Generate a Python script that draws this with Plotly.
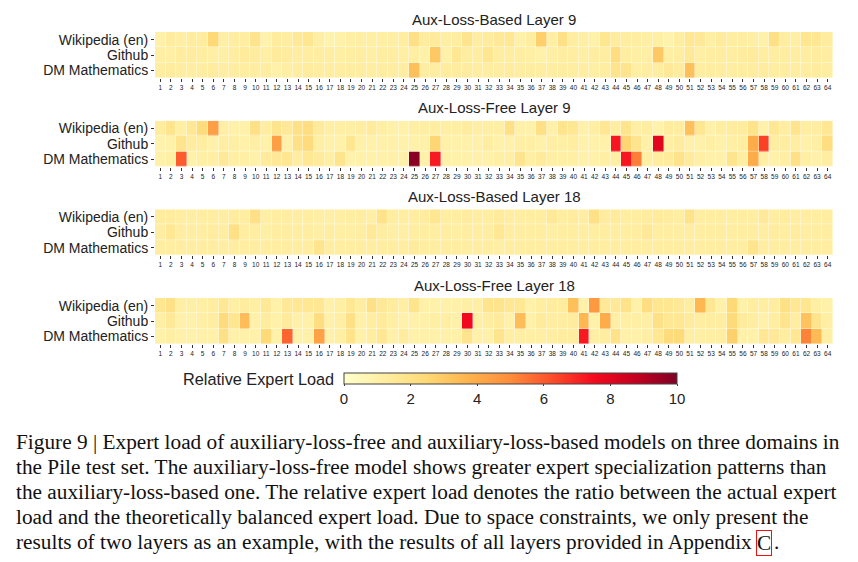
import plotly.graph_objects as go

W, H = 858, 562

experts = list(range(1, 65))
domains = ["Wikipedia (en)", "Github", "DM Mathematics"]
panel_titles = ["Aux-Loss-Based Layer 9", "Aux-Loss-Free Layer 9",
                "Aux-Loss-Based Layer 18", "Aux-Loss-Free Layer 18"]

# ---- Aux-Loss-Based Layer 9 ----
alb9_wiki = [1.0,1.3,1.1,1.3,1.3,2.5,1.1,1.2,1.2,1.8, 0.9,1.3,1.2,1.5,1.7,1.1,0.9,1.0,1.1,1.1,
             1.1,1.1,1.1,1.2,2.0,1.3,1.4,1.1,1.2,1.8, 1.2,1.3,
             1.5,1.6,1.0,1.2,2.8,1.1,2.0,1.2, 1.1,1.0,1.7,1.3,1.2,1.2,1.1,1.1,0.9,1.2,
             1.6,1.5,1.1,1.4,1.2,1.2,1.1,1.0,2.0,1.2, 1.1,1.7,1.6,1.3]
alb9_github = [1.1,1.1,1.3,1.3,1.2,1.1,1.1,1.2,1.4,1.3, 1.1,1.4,1.3,1.2,1.2,1.2,1.2,1.1,1.2,1.2,
               1.1,1.2,1.2,1.1,1.1,1.0,3.0,1.0,1.6,1.2, 1.2,1.7,
               1.2,1.2,1.2,1.1,1.0,1.1,1.2,1.2, 1.1,1.2,1.2,2.2,1.2,1.1,1.1,3.0,1.1,1.2,
               1.5,1.1,1.2,1.2,1.2,1.3,1.4,1.2,1.2,1.2, 1.2,1.2,1.3,1.2]
alb9_dm = [1.2,1.3,1.2,1.2,1.2,1.3,1.2,1.2,1.2,1.2, 1.2,1.0,1.1,1.2,1.3,1.2,1.2,1.2,1.2,1.2,
           1.2,1.2,1.2,1.2,3.3,1.2,1.2,1.3,1.3,1.3, 1.2,1.2,
           1.2,1.3,1.2,1.2,1.2,1.2,1.2,1.2, 1.2,1.1,1.2,1.8,1.8,1.1,1.2,1.2,1.5,1.3,
           3.3,1.2,1.2,1.2,1.2,1.2,1.3,1.3,1.2,1.2, 1.2,1.2,1.3,1.2]

# ---- Aux-Loss-Free Layer 9 ----
alf9_wiki = [1.3,1.8,1.1,1.6,2.3,4.4,1.1,1.0,1.0,2.0, 1.2,1.8,1.5,2.0,2.2,1.4,1.1,1.1,1.1,1.2,
             1.4,1.1,1.0,1.0,1.1,1.1,1.2,1.1,1.1,1.3, 1.1,1.1,
             1.1,2.0,1.0,1.0,2.0,1.0,1.8,1.6, 1.0,1.1,1.6,1.2,1.8,1.1,1.2,0.9,1.3,1.2,
             3.3,1.7,1.0,1.2,1.3,1.3,1.9,1.0,1.6,1.2, 1.8,1.2,1.2,1.6]
alf9_github = [0.9,1.0,1.8,1.3,1.2,1.0,1.2,1.1,1.0,1.1, 1.0,4.4,1.0,2.0,2.3,1.1,1.0,1.0,1.7,1.0,
               1.0,1.0,1.0,1.0,1.0,1.0,2.6,1.0,1.0,1.0, 1.0,1.2,
               1.0,1.0,1.1,1.1,1.0,1.1,1.1,1.2, 1.0,1.0,1.0,7.3,2.6,1.8,1.0,8.0,1.1,1.3,
               1.0,1.0,1.1,1.0,1.1,1.2,4.0,6.5,1.2,1.2, 1.2,1.0,1.1,2.2]
alf9_dm = [1.0,1.1,6.0,1.0,1.1,1.1,1.5,1.1,1.1,1.0, 1.4,1.5,1.7,1.2,1.6,1.4,1.1,1.8,0.9,1.0,
           1.0,1.0,1.0,1.0,9.8,1.0,7.2,1.0,1.0,1.0, 1.0,1.0,
           1.1,1.1,1.8,1.1,1.4,1.1,1.1,1.1, 1.0,1.0,1.1,1.1,7.3,5.3,1.1,1.3,1.4,1.9,
           1.4,1.1,1.0,1.0,1.8,1.2,4.0,1.1,1.0,1.1, 2.0,1.1,1.0,1.2]

# ---- Aux-Loss-Based Layer 18 ----
alb18_wiki = [1.3,1.3,1.2,1.2,1.2,1.2,1.2,1.3,1.2,2.0, 1.1,1.2,1.2,1.2,1.2,1.1,1.1,1.1,1.2,1.2,
              1.1,1.9,1.2,1.2,1.2,1.3,1.7,1.2,1.2,1.3, 1.2,1.2,
              1.4,1.2,1.2,1.2,1.2,1.5,1.2,1.3, 1.2,2.0,1.3,1.4,1.2,1.2,1.3,1.4,1.3,1.2,
              1.9,1.2,1.2,1.2,1.2,1.2,1.2,1.5,1.2,1.3, 1.2,1.2,1.2,1.2]
alb18_github = [1.2,1.6,1.2,1.2,1.2,1.3,1.2,2.0,1.2,1.2, 1.1,1.2,1.2,1.2,1.2,1.1,1.2,1.1,1.1,1.2,
                1.5,1.2,1.1,1.1,1.2,1.2,1.2,1.2,1.1,1.2, 1.2,1.2,
                1.6,1.2,1.2,1.2,1.2,1.1,1.2,1.2, 1.2,1.2,1.2,1.2,1.2,1.2,1.5,1.2,1.2,1.2,
                1.2,1.2,1.2,1.2,1.2,1.2,1.2,1.2,1.3,1.2, 1.3,1.2,1.2,1.2]
alb18_dm = [1.2,1.2,1.2,1.2,1.2,1.2,1.2,1.2,1.2,1.2, 1.2,1.2,1.2,1.2,1.2,1.8,1.2,1.2,1.2,1.2,
            1.2,1.2,1.2,1.2,1.35,1.2,1.2,1.2,1.2,1.2, 1.2,1.2,
            1.1,1.2,1.2,1.2,1.2,1.2,1.2,1.2, 1.2,1.2,1.2,1.2,1.2,1.2,1.2,1.2,1.2,1.2,
            1.2,1.2,1.2,1.2,1.2,1.2,1.8,1.2,1.2,1.2, 1.2,1.2,1.2,1.2]

# ---- Aux-Loss-Free Layer 18 ----
alf18_wiki = [1.7,2.0,1.1,1.1,1.1,1.2,1.6,1.1,1.3,1.1, 1.5,1.0,1.5,1.6,1.6,1.6,1.0,1.1,1.6,1.2,
              2.0,1.5,1.3,1.1,1.8,1.0,1.0,1.0,1.0,1.1, 1.1,1.8,
              1.8,1.6,1.6,1.0,1.2,1.3,1.3,3.3, 1.0,4.6,1.5,1.5,1.9,1.0,2.2,1.7,1.7,1.5,
              1.2,3.6,1.6,1.0,2.5,1.0,1.2,1.2,1.2,2.0, 1.6,1.7,1.1,1.0]
alf18_github = [1.1,1.5,1.0,1.0,1.1,1.2,2.3,1.7,3.4,1.0, 1.3,1.0,1.4,1.0,1.0,2.2,1.0,1.1,2.0,1.0,
                1.2,1.4,1.1,1.0,1.0,1.0,1.1,1.1,1.0,7.6, 1.1,1.2,
                1.4,1.0,3.4,1.0,1.4,1.2,1.2,1.3, 3.6,1.0,4.0,1.1,1.1,1.1,1.1,2.0,1.6,1.6,
                1.4,1.2,1.2,1.2,2.4,1.4,1.2,1.0,1.2,1.8, 1.2,3.2,1.8,1.1]
alf18_dm = [1.0,1.1,1.0,1.0,1.0,1.0,2.0,1.0,1.0,1.0, 2.4,1.0,5.8,1.0,1.0,4.3,1.0,1.1,1.9,1.0,
            1.2,1.6,1.0,1.3,1.0,1.0,1.0,1.0,1.0,1.8, 1.0,1.0,
            1.8,1.1,1.1,1.1,1.1,1.2,1.3,1.3, 7.2,1.1,1.2,1.9,1.0,1.0,1.1,1.6,2.3,2.4,
            1.1,1.1,1.1,1.2,2.8,1.0,1.0,1.6,1.5,1.2, 1.6,5.2,3.5,1.1]

panels = [
    [alb9_wiki, alb9_github, alb9_dm],
    [alf9_wiki, alf9_github, alf9_dm],
    [alb18_wiki, alb18_github, alb18_dm],
    [alf18_wiki, alf18_github, alf18_dm],
]

colorbar_ticks = [0, 2, 4, 6, 8, 10]

caption_lines = [
    "Figure 9 | Expert load of auxiliary-loss-free and auxiliary-loss-based models on three domains in",
    "the Pile test set. The auxiliary-loss-free model shows greater expert specialization patterns than",
    "the auxiliary-loss-based one. The relative expert load denotes the ratio between the actual expert",
    "load and the theoretically balanced expert load. Due to space constraints, we only present the",
    "results of two layers as an example, with the results of all layers provided in Appendix",
]
appendix_ref = "C"

# ---------------- styling ----------------
colorscale = [[0.0, "#ffffcc"], [0.125, "#ffeda0"], [0.25, "#fed976"], [0.375, "#feb24c"],
              [0.5, "#fd8d3c"], [0.625, "#fc4e2a"], [0.75, "#f50a1e"], [0.875, "#c4001f"],
              [1.0, "#800026"]]
SANS = "Liberation Sans, Arial, sans-serif"
SERIF = "Liberation Serif, Times New Roman, serif"
CAP_SIZE = 21.3

def px_x(v):
    return v / W

def px_y(v):
    return 1 - v / H

tops = [32, 120.7, 209.3, 298]
hm_h = 46
x0, x1 = 155, 833

fig = go.Figure()
annotations = []
for i, rows in enumerate(panels):
    xa = "x" if i == 0 else f"x{i+1}"
    ya = "y" if i == 0 else f"y{i+1}"
    fig.add_trace(go.Heatmap(
        z=rows, x=experts, y=domains, coloraxis="coloraxis",
        xaxis=xa, yaxis=ya, xgap=0.4, ygap=0.4, hoverinfo="skip",
    ))
    top = tops[i]
    fig.layout[f"xaxis{'' if i == 0 else i+1}"] = dict(
        domain=[px_x(x0), px_x(x1)], anchor=ya, range=[0.5, 64.5],
        tickmode="array", tickvals=experts, ticktext=[str(e) for e in experts],
        ticks="outside", ticklen=3, tickwidth=1, tickcolor="#333",
        tickfont=dict(size=6.5, family=SANS, color="#222"), tickangle=0,
        showgrid=False, zeroline=False, showline=False, fixedrange=True,
    )
    fig.layout[f"yaxis{'' if i == 0 else i+1}"] = dict(
        domain=[px_y(top + hm_h), px_y(top)], anchor=xa,
        autorange="reversed", type="category",
        tickmode="array", tickvals=domains, ticktext=domains,
        ticks="outside", ticklen=3, tickwidth=1, tickcolor="#333",
        tickfont=dict(size=14, family=SANS, color="#222"),
        showgrid=False, zeroline=False, showline=False, fixedrange=True,
    )
    annotations.append(dict(
        text=panel_titles[i], x=px_x((x0 + x1) / 2), y=px_y(top - 13),
        xref="paper", yref="paper", showarrow=False, xanchor="center", yanchor="middle",
        font=dict(size=15, family=SANS, color="#222"),
    ))

annotations.append(dict(
    text="Relative Expert Load", x=px_x(336), y=px_y(379),
    xref="paper", yref="paper", showarrow=False, xanchor="right", yanchor="middle",
    font=dict(size=16.3, family=SANS, color="#222"),
))

line_y = [441.7, 466.7, 491.7, 516.7, 541.7]
for t, yy in zip(caption_lines, line_y):
    annotations.append(dict(
        text=t, x=px_x(14), y=px_y(yy), xref="paper", yref="paper",
        showarrow=False, xanchor="left", yanchor="middle",
        font=dict(size=CAP_SIZE, family=SERIF, color="#111"),
    ))
# boxed hyperlink "C" and final period
annotations.append(dict(
    text=appendix_ref, x=px_x(764), y=px_y(line_y[-1] + 1), xref="paper", yref="paper",
    showarrow=False, xanchor="center", yanchor="middle",
    bordercolor="#ee1111", borderwidth=1, borderpad=0,
    font=dict(size=CAP_SIZE, family=SERIF, color="#111"),
))
annotations.append(dict(
    text=".", x=px_x(772), y=px_y(line_y[-1]), xref="paper", yref="paper",
    showarrow=False, xanchor="left", yanchor="middle",
    font=dict(size=CAP_SIZE, family=SERIF, color="#111"),
))

fig.update_layout(
    width=W, height=H, margin=dict(l=0, r=0, t=0, b=0),
    paper_bgcolor="white", plot_bgcolor="white",
    coloraxis=dict(
        colorscale=colorscale, cmin=0, cmax=10,
        colorbar=dict(
            orientation="h", x=px_x(344), xanchor="left", len=(677 - 344) / W,
            lenmode="fraction", y=px_y(373), yanchor="top", thickness=11,
            xpad=0, ypad=0, outlinewidth=1, outlinecolor="#444",
            tickmode="array", tickvals=colorbar_ticks, ticks="outside", ticklen=2,
            tickcolor="#444", tickfont=dict(size=15, family=SANS, color="#222"),
        ),
    ),
    annotations=annotations,
    showlegend=False,
)

fig.write_html("out.html", config={"displayModeBar": False},
               post_script="document.body.style.margin='0';")
